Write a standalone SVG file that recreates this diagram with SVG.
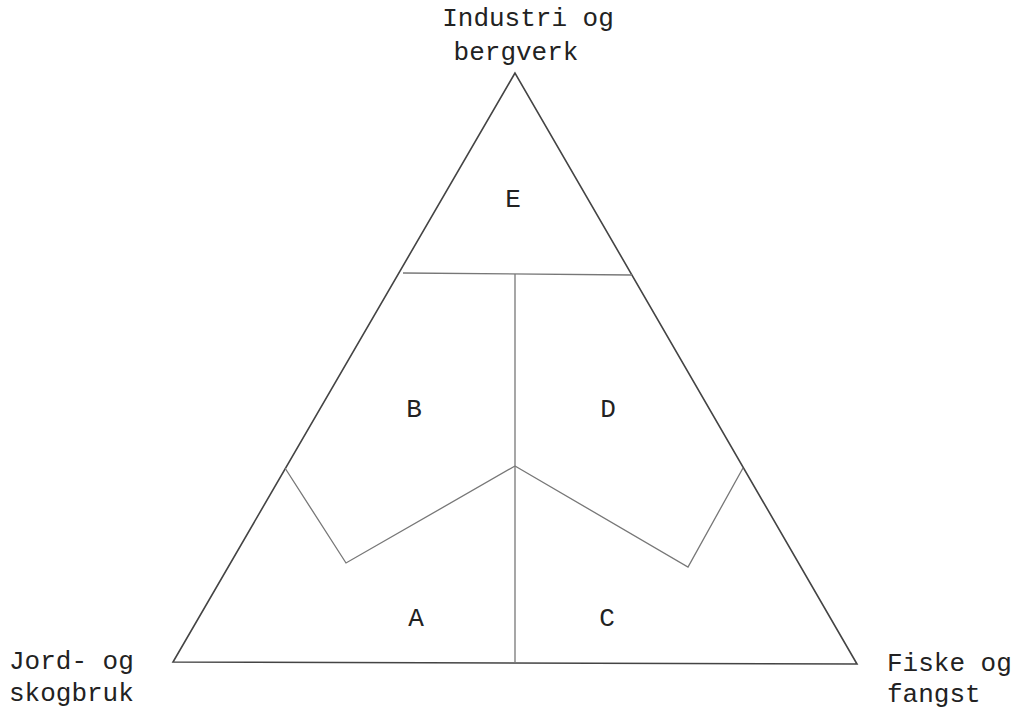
<svg xmlns="http://www.w3.org/2000/svg" width="1020" height="713" viewBox="0 0 1020 713">
<style>
.t{font-family:"Liberation Mono","DejaVu Sans Mono",monospace;font-size:26px;fill:#222}
.c{text-anchor:middle}
.ln{fill:none;stroke:#444;stroke-width:1.6;stroke-linejoin:miter}
.th{fill:none;stroke:#777;stroke-width:1.3}
</style>
<rect width="1020" height="713" fill="#fff"/>
<g id="connectors">
<polygon class="ln" points="515,73 173,662 857,664"/>
<line class="th" x1="403" y1="273" x2="632" y2="275"/>
<line class="th" x1="515" y1="274" x2="515" y2="663"/>
<polyline class="th" points="285,468 346,563 515,466"/>
<polyline class="th" points="515,466 688,567 743,468"/>
</g>
<g id="apex-label"><text class="t c" x="528" y="26">Industri og</text><text class="t c" x="516" y="60">bergverk</text></g>
<g id="left-label"><text class="t" x="9" y="669">Jord- og</text><text class="t" x="9" y="701">skogbruk</text></g>
<g id="right-label"><text class="t" x="887" y="671">Fiske og</text><text class="t" x="887" y="702">fangst</text></g>
<g id="E"><text class="t c" x="513" y="207">E</text></g>
<g id="B"><text class="t c" x="414" y="417">B</text></g>
<g id="D"><text class="t c" x="608" y="417">D</text></g>
<g id="A"><text class="t c" x="416" y="626">A</text></g>
<g id="C"><text class="t c" x="607" y="626">C</text></g>
</svg>
